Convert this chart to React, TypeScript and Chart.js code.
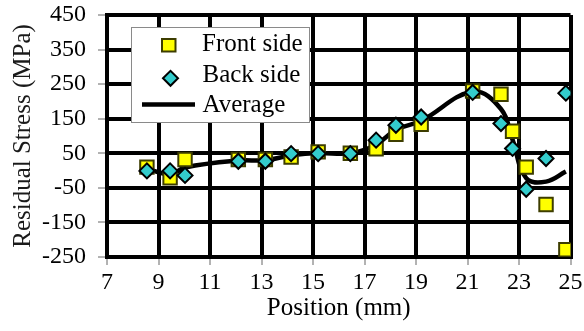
import React, { useEffect, useRef } from "react";
import { Chart, registerables } from "chart.js";

Chart.register(...registerables);

// ---- data ----
const positions = [8.55, 9.45, 10.03, 12.1, 13.15, 14.15, 15.2, 16.45, 17.45, 18.22, 19.2, 21.2, 22.3, 22.75, 23.28, 24.05, 24.82];
const frontSide = [10, -21, 32, 32, 32, 39, 54, 50, 63, 105, 134, 230, 221, 114, 10, -98, -229];
const backSide = [-1, -1, -14, 27, 27, 49, 49, 49, 88, 131, 155, 226, 136, 64, -54, 35, 224];
const average = [5, -11, 9, 29, 30, 44, 51, 50, 75, 118, 144, 228, 178, 89, -22, -32, -3];

const xTickValues = [7, 9, 11, 13, 15, 17, 19, 21, 23, 25];
const yTickValues = [-250, -150, -50, 50, 150, 250, 350, 450];

const seriesLabels = ["Front side", "Back side", "Average"];
const xTitle = "Position (mm)";
const yTitle = "Residual Stress (MPa)";

const SERIF = "'Liberation Serif', 'Times New Roman', serif";
const FRONT_FILL = "#ffff00";
const FRONT_BORDER = "#3d3d00";
const BACK_FILL = "#33cccc";

const toPoints = (ys: number[]) => positions.map((x, i) => ({ x, y: ys[i] }));

const legendPlugin = {
  id: "boxLegend",
  afterDraw(chart: any) {
    const ctx = chart.ctx;
    ctx.save();
    ctx.fillStyle = "#ffffff";
    ctx.fillRect(131, 27, 179, 96);
    ctx.strokeStyle = "#8a8a8a";
    ctx.lineWidth = 1;
    ctx.strokeRect(131.5, 27.5, 178, 95);

    ctx.fillStyle = FRONT_FILL;
    ctx.strokeStyle = FRONT_BORDER;
    ctx.lineWidth = 2;
    ctx.beginPath();
    ctx.rect(162, 39, 13.5, 12.5);
    ctx.fill();
    ctx.stroke();

    const cx = 170.5, cy = 78.3, r = 7.5;
    ctx.fillStyle = BACK_FILL;
    ctx.strokeStyle = "#000000";
    ctx.beginPath();
    ctx.moveTo(cx - r, cy);
    ctx.lineTo(cx, cy - r);
    ctx.lineTo(cx + r, cy);
    ctx.lineTo(cx, cy + r);
    ctx.closePath();
    ctx.fill();
    ctx.stroke();

    ctx.strokeStyle = "#000000";
    ctx.lineWidth = 4.5;
    ctx.beginPath();
    ctx.moveTo(142, 104.5);
    ctx.lineTo(195, 104.5);
    ctx.stroke();

    ctx.fillStyle = "#000000";
    ctx.font = `25px ${SERIF}`;
    ctx.textAlign = "left";
    ctx.textBaseline = "alphabetic";
    ctx.fillText(seriesLabels[0], 202, 51);
    ctx.fillText(seriesLabels[1], 202.5, 82);
    ctx.fillText(seriesLabels[2], 202.5, 112);
    ctx.restore();
  },
};

export default function App() {
  const canvasRef = useRef<HTMLCanvasElement | null>(null);

  useEffect(() => {
    const canvas = canvasRef.current;
    if (!canvas) return;
    const chart = new Chart(canvas, {
      type: "scatter",
      data: {
        datasets: [
          {
            label: seriesLabels[1],
            data: toPoints(backSide),
            pointStyle: "rectRot",
            pointRadius: 7.5,
            pointBackgroundColor: BACK_FILL,
            pointBorderColor: "#000000",
            pointBorderWidth: 2,
            showLine: false,
            order: 0,
          } as any,
          {
            label: seriesLabels[0],
            data: toPoints(frontSide),
            pointStyle: "rect",
            pointRadius: 9.5,
            pointBackgroundColor: FRONT_FILL,
            pointBorderColor: FRONT_BORDER,
            pointBorderWidth: 2,
            showLine: false,
            order: 1,
          } as any,
          {
            label: seriesLabels[2],
            data: toPoints(average),
            showLine: true,
            borderColor: "#000000",
            borderWidth: 4.5,
            pointRadius: 0,
            tension: 0.4,
            fill: false,
            order: 2,
          } as any,
        ],
      },
      options: {
        animation: false,
        responsive: false,
        devicePixelRatio: 1,
        events: [],
        layout: { padding: { top: 15, right: 13.5, left: 0, bottom: 0 } },
        plugins: {
          legend: { display: false },
          tooltip: { enabled: false },
        },
        scales: {
          x: {
            type: "linear",
            min: 7,
            max: 25,
            afterBuildTicks: (scale: any) => {
              scale.ticks = xTickValues.map((v) => ({ value: v }));
            },
            afterFit: (scale: any) => {
              scale.height = 74;
              scale.paddingLeft = 0;
              scale.paddingRight = 0;
            },
            grid: {
              color: "#000000",
              lineWidth: 4,
              tickLength: 8,
              tickColor: "#666666",
              tickWidth: 1,
            },
            border: { display: true, color: "#000000", width: 4 },
            ticks: {
              color: "#000000",
              font: { family: SERIF, size: 24 },
              padding: 3,
              maxRotation: 0,
              autoSkip: false,
            },
            title: {
              display: true,
              text: xTitle,
              color: "#000000",
              font: { family: SERIF, size: 25 },
              padding: { top: 0, bottom: 8 },
            },
          },
          y: {
            type: "linear",
            min: -250,
            max: 450,
            afterBuildTicks: (scale: any) => {
              scale.ticks = yTickValues.map((v) => ({ value: v }));
            },
            afterFit: (scale: any) => {
              scale.width = 107;
              scale.paddingTop = 0;
              scale.paddingBottom = 0;
            },
            grid: {
              color: "#000000",
              lineWidth: 4,
              tickLength: 9,
              tickColor: "#666666",
              tickWidth: 1,
            },
            border: { display: true, color: "#000000", width: 4 },
            ticks: {
              color: "#000000",
              font: { family: SERIF, size: 24 },
              padding: 12,
              autoSkip: false,
            },
            title: {
              display: true,
              text: yTitle,
              color: "#1a1a1a",
              font: { family: SERIF, size: 25 },
              padding: { top: 8, bottom: 0 },
            },
          },
        },
      },
      plugins: [legendPlugin],
    } as any);
    return () => chart.destroy();
  }, []);

  return (
    <div style={{ position: "absolute", left: 0, top: 0, width: 584, height: 331, background: "#ffffff" }}>
      <canvas ref={canvasRef} width={584} height={331} />
    </div>
  );
}
